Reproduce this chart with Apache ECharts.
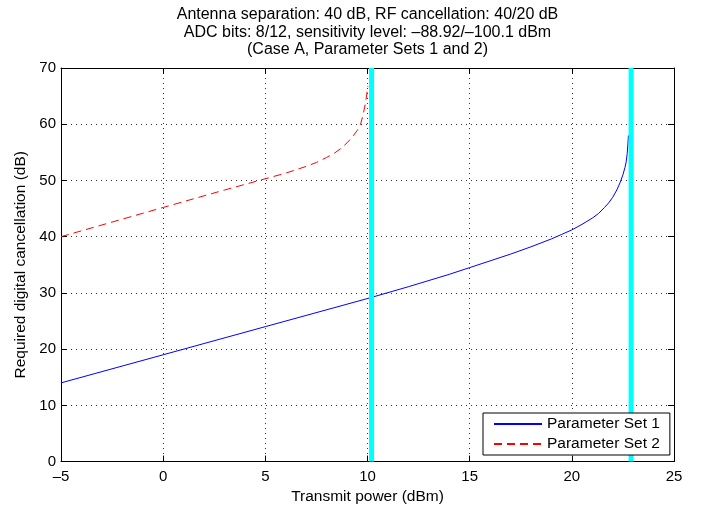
<!DOCTYPE html>
<html>
<head>
<meta charset="utf-8">
<script src="https://cdn.jsdelivr.net/npm/echarts@6/dist/echarts.min.js"></script>
<style>html,body{margin:0;padding:0;background:#fff}#c{width:710px;height:510px}</style>
</head>
<body>
<div id="c"></div>
<script>
// Data
const titleLines = [
  'Antenna separation: 40 dB, RF cancellation: 40/20 dB',
  'ADC bits: 8/12, sensitivity level: \u201388.92/\u2013100.1 dBm',
  '(Case A, Parameter Sets 1 and 2)'
];
const xName = 'Transmit power (dBm)';
const yName = 'Required digital cancellation (dB)';
const seriesNames = ['Parameter Set 1', 'Parameter Set 2'];

const txPower1 = [-5, 0, 5, 10, 12, 14, 15, 16, 17, 18, 19, 19.5, 20, 20.5, 21, 21.3, 21.6, 21.8, 22, 22.2, 22.36, 22.5, 22.6, 22.66, 22.71, 22.74, 22.77];
const digCanc1 = [14, 19, 24, 29, 31.1, 33.3, 34.5, 35.7, 36.9, 38.2, 39.6, 40.4, 41.2, 42.2, 43.3, 44.1, 45.2, 46.0, 47.0, 48.3, 49.6, 51.0, 52.3, 53.3, 54.8, 56.3, 58];

const txPower2 = [-5, 0, 3, 5, 6, 7, 7.5, 8, 8.4, 8.7, 9, 9.25, 9.5, 9.66, 9.78, 9.88, 9.96, 10.02];
const digCanc2 = [40, 45.2, 48.3, 50.3, 51.3, 52.5, 53.2, 54.1, 54.9, 55.7, 56.7, 57.7, 58.9, 60, 61.6, 63.4, 65.2, 66.8];

const limitPowers = [10.2, 22.9];
const xTicks = { min: -5, max: 25, step: 5 };
const yTicks = { min: 0, max: 70, step: 10 };

const FONT = "'Liberation Sans', Arial, Helvetica, sans-serif";
const fmt = v => String(v).replace('-', '\u2013');

function pairs(xs, ys) { return xs.map((x, i) => [x, ys[i]]); }

const gridLine = { show: true, lineStyle: { color: '#333', width: 1, type: [1, 4] } };
const tick = { show: true, inside: true, length: 6, lineStyle: { color: '#000' } };
const axLine = { show: true, onZero: false, lineStyle: { color: '#000', width: 1 } };

const series = [
  {
    name: seriesNames[0], type: 'line', data: pairs(txPower1, digCanc1),
    showSymbol: false, symbol: 'none', smooth: false,
    lineStyle: { color: '#0000ff', width: 1 }, itemStyle: { color: '#0000ff' }, z: 3
  },
  {
    name: seriesNames[1], type: 'line', data: pairs(txPower2, digCanc2),
    showSymbol: false, symbol: 'none', smooth: false,
    lineStyle: { color: '#ff0000', width: 1, type: [8, 5] }, itemStyle: { color: '#ff0000' }, z: 3
  }
];
limitPowers.forEach((p, i) => {
  series.push({
    name: 'limit' + i, type: 'line', data: [[p, yTicks.min], [p, yTicks.max]],
    showSymbol: false, symbol: 'none', silent: true,
    lineStyle: { color: '#00ffff', width: 5 }, z: 4
  });
});

const chart = echarts.init(document.getElementById('c'), null, { renderer: 'canvas' });
chart.setOption({
  animation: false,
  backgroundColor: '#ffffff',
  textStyle: { fontFamily: FONT },
  title: {
    text: titleLines.join('\n'),
    left: 362.5, top: 1, textAlign: 'center',
    textStyle: { fontFamily: FONT, fontSize: 16, fontWeight: 'normal', color: '#000', lineHeight: 17.5 }
  },
  grid: { left: 61, right: 36, top: 68, bottom: 47, containLabel: false },
  legend: {
    data: seriesNames.map(n => ({ name: n, itemStyle: { opacity: 0 } })),
    orient: 'vertical', left: 483, top: 413,
    padding: [3, 10, 3, 10], itemGap: 4, itemWidth: 48, itemHeight: 16,
    borderColor: '#000', borderWidth: 1, backgroundColor: '#fff',
    itemStyle: { opacity: 0 },
    textStyle: { fontFamily: FONT, fontSize: 15.5, color: '#000' },
    z: 10
  },
  xAxis: [
    {
      type: 'value', position: 'bottom', min: xTicks.min, max: xTicks.max, interval: xTicks.step,
      name: xName, nameLocation: 'middle', nameGap: 23.5,
      nameTextStyle: { fontFamily: FONT, fontSize: 15.5, color: '#000' },
      axisLine: axLine, axisTick: tick, splitLine: gridLine,
      axisLabel: { formatter: fmt, fontFamily: FONT, fontSize: 15, color: '#000', margin: 7.5 }
    },
    {
      type: 'value', position: 'top', min: xTicks.min, max: xTicks.max, interval: xTicks.step,
      axisLine: axLine, axisTick: tick, splitLine: { show: false }, axisLabel: { show: false }
    }
  ],
  yAxis: [
    {
      type: 'value', position: 'left', min: yTicks.min, max: yTicks.max, interval: yTicks.step,
      name: yName, nameLocation: 'middle', nameGap: 24, nameRotate: 90,
      nameTextStyle: { fontFamily: FONT, fontSize: 15.5, color: '#000' },
      axisLine: axLine, axisTick: tick, splitLine: gridLine,
      axisLabel: { formatter: fmt, fontFamily: FONT, fontSize: 15, color: '#000', margin: 5 }
    },
    {
      type: 'value', position: 'right', min: yTicks.min, max: yTicks.max, interval: yTicks.step,
      axisLine: axLine, axisTick: tick, splitLine: { show: false }, axisLabel: { show: false }
    }
  ],
  series: series
});
</script>
</body>
</html>
